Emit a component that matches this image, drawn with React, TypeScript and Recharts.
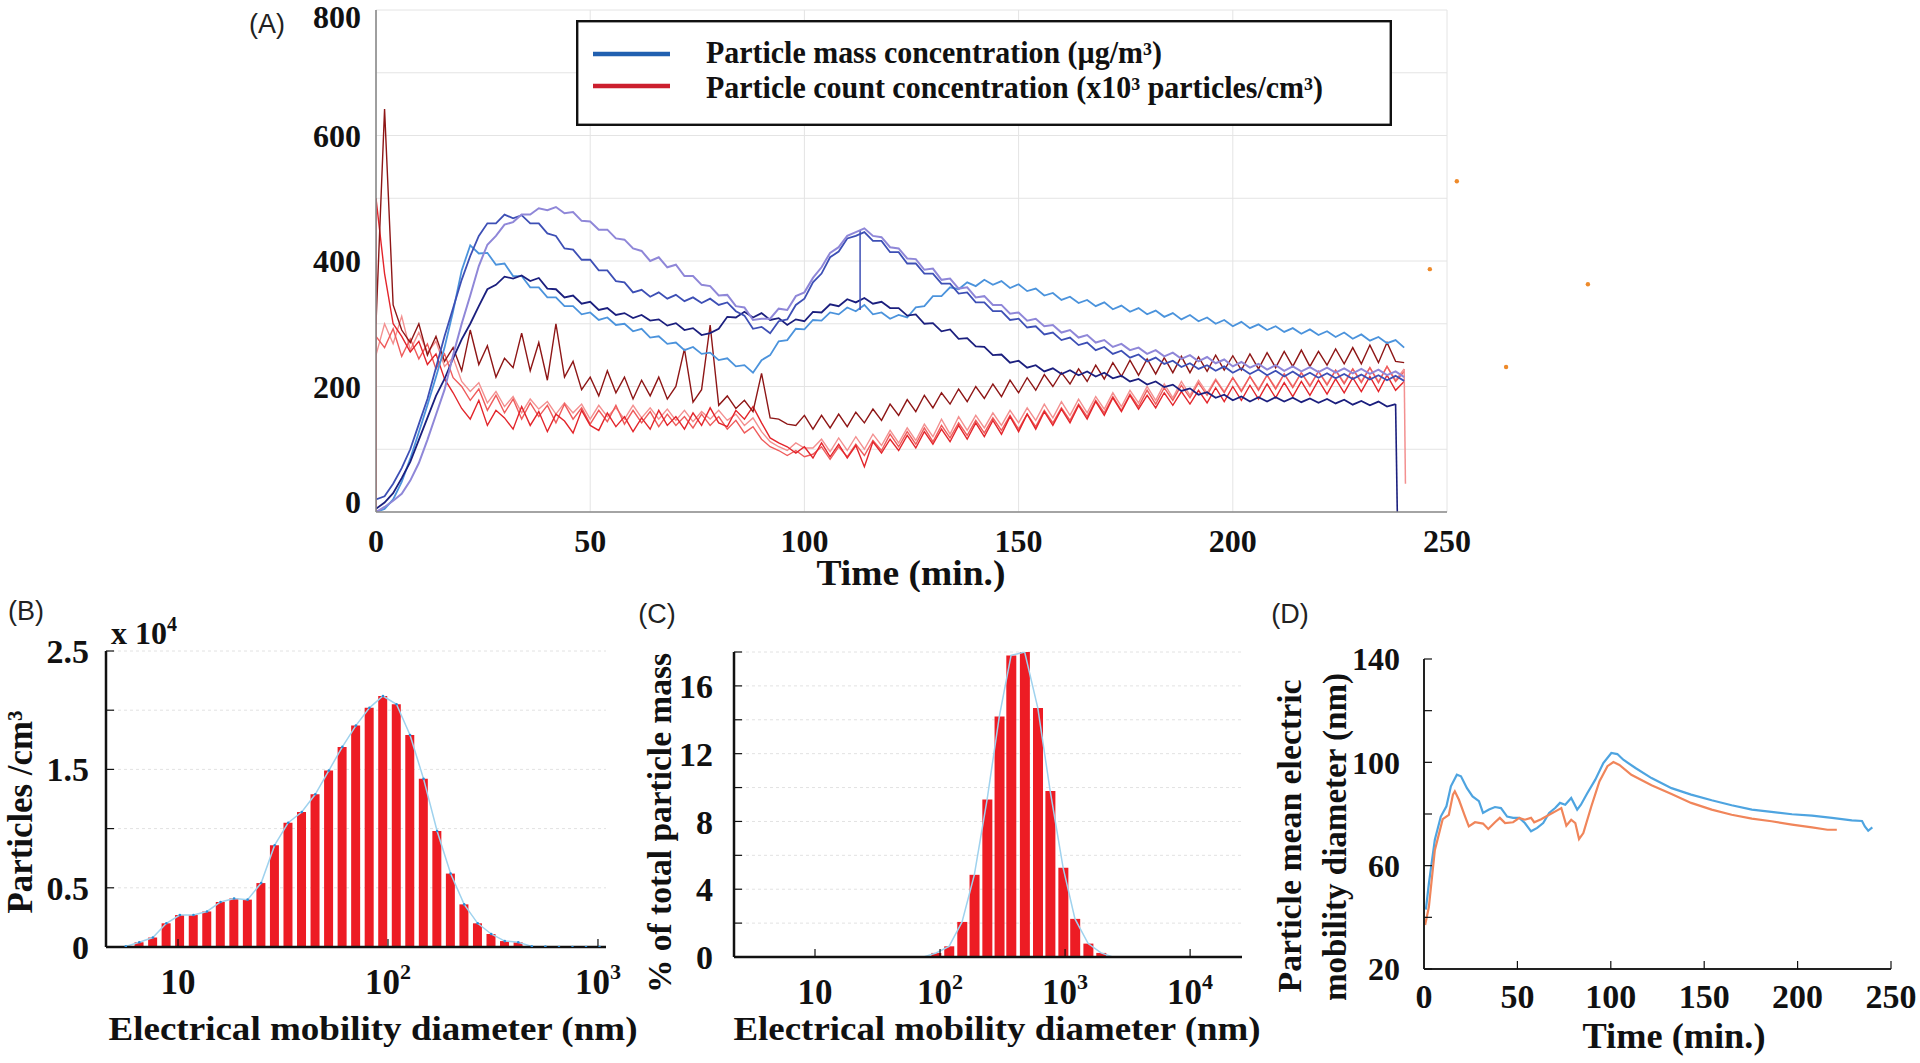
import React from 'react';
import {
  LineChart, Line, ComposedChart, Bar, ScatterChart, Scatter,
  XAxis, YAxis, CartesianGrid, Legend, Label,
} from 'recharts';

const SERIF = '"Liberation Serif", "Times New Roman", Times, serif';
const SANS = '"Liberation Sans", Arial, Helvetica, sans-serif';
const INK = '#111';

// ---------- (A) time series, one sample every 2 min ----------
const timeA = [0, 2, 4, 6, 8, 10, 12, 14, 16, 18, 20, 22, 24, 26, 28, 30, 32, 34, 36, 38, 40, 42, 44, 46, 48, 50, 52, 54, 56, 58, 60, 62, 64, 66, 68, 70, 72, 74, 76, 78, 80, 82, 84, 86, 88, 90, 92, 94, 96, 98, 100, 102, 104, 106, 108, 110, 112, 114, 116, 118, 120, 122, 124, 126, 128, 130, 132, 134, 136, 138, 140, 142, 144, 146, 148, 150, 152, 154, 156, 158, 160, 162, 164, 166, 168, 170, 172, 174, 176, 178, 180, 182, 184, 186, 188, 190, 192, 194, 196, 198, 200, 202, 204, 206, 208, 210, 212, 214, 216, 218, 220, 222, 224, 226, 228, 230, 232, 234, 236, 238, 240];

// particle mass concentration (ug/m3), four runs
const massLavender = [
  0, 8, 18, 29, 50, 78, 115, 155, 195, 250,
  300, 345, 392, 426, 440, 458, 462, 474, 474, 484,
  481, 486, 476, 478, 464, 463, 450, 450, 436, 434,
  420, 416, 400, 406, 390, 394, 376, 376, 362, 360,
  345, 346, 328, 326, 306, 308, 308, 324, 322, 344,
  350, 373, 390, 413, 422, 440, 446, 452, 440, 438,
  422, 420, 404, 403, 386, 388, 370, 372, 356, 358,
  342, 344, 330, 330, 316, 318, 305, 308, 296, 298,
  286, 290, 278, 282, 270, 274, 263, 268, 258, 262,
  252, 258, 248, 254, 244, 250, 240, 247, 237, 243,
  232, 239, 230, 236, 227, 234, 225, 232, 224, 231,
  223, 230, 222, 229, 221, 228, 220, 227, 218, 224,
  215,
];
const massMedium = [
  20, 25, 45, 70, 100, 140, 180, 230, 280, 325,
  370, 408, 440, 460, 460, 474, 468, 473, 460, 460,
  444, 440, 420, 418, 402, 402, 385, 385, 368, 366,
  350, 354, 343, 350, 340, 346, 336, 342, 333, 340,
  330, 334, 320, 313, 292, 295, 285, 304, 307, 330,
  340, 366, 380, 406, 415, 436, 440, 446, 432, 432,
  414, 414, 396, 396, 380, 380, 364, 364, 348, 350,
  334, 334, 320, 320, 306, 308, 294, 296, 283, 286,
  274, 278, 266, 270, 258, 263, 252, 257, 246, 251,
  240, 246, 236, 241, 231, 237, 228, 234, 225, 232,
  222, 229, 220, 227, 218, 225, 216, 224, 215, 222,
  214, 221, 213, 220, 212, 219, 211, 218, 210, 217,
  209,
];
// this run stops at 238 min
const massNavy = [
  5, 15, 30, 54, 80, 115, 150, 185, 212, 245,
  275, 300, 328, 355, 362, 375, 372, 377, 368, 373,
  356, 355, 342, 345, 332, 335, 322, 325, 314, 317,
  309, 314, 305, 307, 297, 301, 290, 293, 282, 285,
  292, 311, 310, 319, 310, 317, 306, 309, 298, 307,
  304, 319, 318, 331, 328, 339, 334, 341, 332, 335,
  325, 325, 313, 315, 300, 301, 288, 291, 276, 277,
  264, 263, 250, 251, 238, 241, 230, 234, 224, 229,
  220, 226, 218, 224, 216, 222, 213, 217, 208, 212,
  203, 208, 199, 203, 193, 197, 187, 191, 182, 187,
  178, 184, 176, 183, 176, 183, 176, 182, 175, 181,
  174, 180, 173, 179, 171, 177, 170, 176, 168, 172,
];
const massLight = [
  0, 5, 20, 48, 85, 127, 170, 215, 262, 320,
  385, 425, 412, 413, 394, 396, 376, 376, 358, 358,
  342, 342, 328, 328, 315, 318, 306, 310, 298, 300,
  288, 292, 278, 280, 268, 270, 258, 263, 252, 254,
  242, 245, 232, 234, 222, 242, 250, 272, 274, 292,
  291, 306, 305, 318, 315, 326, 320, 330, 315, 318,
  308, 314, 310, 326, 328, 344, 344, 358, 355, 366,
  360, 370, 362, 368, 357, 363, 352, 356, 345, 349,
  338, 343, 333, 338, 328, 334, 323, 329, 319, 325,
  315, 321, 311, 317, 307, 314, 304, 310, 300, 306,
  296, 303, 293, 299, 290, 296, 287, 293, 284, 291,
  282, 288, 279, 286, 276, 283, 273, 279, 269, 274,
  262,
];

// particle count concentration (x10^3 /cm3), four runs
const countDark = [
  300, 642, 330, 290, 270, 300, 250, 280, 240, 262,
  225, 290, 235, 265, 215, 245, 230, 285, 225, 270,
  210, 300, 215, 240, 195, 215, 185, 225, 190, 215,
  180, 210, 185, 215, 180, 200, 260, 175, 195, 298,
  170, 185, 165, 178, 160, 221, 150, 148, 140, 138,
  154, 132, 154, 134, 156, 136, 159, 142, 164, 146,
  172, 154, 179, 160, 186, 166, 190, 172, 196, 176,
  200, 181, 204, 184, 210, 190, 214, 194, 219, 200,
  222, 204, 228, 208, 234, 212, 238, 216, 242, 218,
  244, 220, 246, 222, 248, 222, 247, 224, 250, 226,
  249, 226, 252, 228, 254, 230, 256, 232, 258, 232,
  256, 234, 260, 236, 262, 236, 266, 238, 270, 240,
  238,
];
const countRed = [
  500, 380, 300, 280, 255, 272, 235, 252, 212, 190,
  165, 148, 178, 138, 162, 150, 132, 168, 138, 160,
  128, 156, 145, 126, 162, 138, 130, 158, 136, 152,
  128, 150, 132, 162, 138, 152, 132, 158, 138, 166,
  142, 136, 162, 148, 168, 142, 118, 110, 104, 94,
  104, 86, 110, 88, 108, 86, 106, 72, 112, 94,
  116, 98, 122, 102, 128, 108, 132, 112, 138, 116,
  142, 120, 146, 124, 152, 128, 156, 132, 160, 138,
  164, 142, 170, 148, 176, 154, 182, 160, 186, 164,
  186, 166, 190, 170, 192, 172, 194, 174, 198, 176,
  200, 178, 202, 180, 204, 182, 206, 184, 208, 186,
  210, 188, 212, 190, 214, 192, 216, 192, 218, 194,
  208,
];
const countSalmon = [
  280, 262, 292, 248, 276, 244, 268, 228, 252, 214,
  200, 178, 196, 162, 186, 158, 180, 148, 174, 152,
  170, 142, 172, 148, 166, 140, 162, 144, 170, 140,
  162, 142, 160, 136, 156, 138, 152, 134, 156, 138,
  152, 132, 146, 126, 136, 116, 104, 98, 90, 98,
  88, 92, 104, 84, 104, 88, 108, 90, 114, 98,
  124, 104, 128, 108, 134, 112, 138, 118, 142, 122,
  146, 126, 150, 130, 154, 132, 156, 136, 162, 142,
  166, 146, 172, 152, 178, 158, 184, 162, 188, 168,
  194, 172, 198, 178, 202, 182, 206, 186, 210, 190,
  214, 192, 216, 194, 218, 196, 220, 198, 222, 200,
  224, 202, 226, 204, 228, 206, 230, 206, 232, 208,
  224,
];
const countPink = [
  250, 300, 268, 312, 258, 286, 254, 272, 232, 246,
  208, 192, 206, 174, 192, 168, 184, 158, 180, 164,
  176, 156, 174, 158, 172, 148, 170, 152, 166, 148,
  170, 150, 166, 148, 164, 146, 162, 144, 160, 148,
  162, 146, 156, 138, 150, 128, 112, 104, 98, 110,
  102, 102, 116, 96, 118, 98, 120, 100, 124, 106,
  130, 110, 134, 114, 140, 120, 148, 124, 152, 130,
  154, 134, 158, 138, 162, 142, 166, 146, 172, 150,
  176, 154, 180, 158, 184, 164, 190, 168, 194, 174,
  200, 178, 204, 182, 208, 186, 210, 190, 212, 192,
  214, 194, 216, 196, 218, 198, 220, 200, 222, 202,
  224, 204, 226, 206, 228, 208, 230, 208, 232, 210,
  228,
];

// short vertical strokes in (A)
const redRiseT = [0, 0];
const redRiseV = [0, 500];
const mediumDipT = [113, 113];
const mediumDipV = [448, 322];
const navyDropT = [238, 238.4];
const navyDropV = [172, 0];
const pinkDropT = [240, 240.3];
const pinkDropV = [228, 45];

// stray orange points right of (A)
const strayT = [252.3, 246, 282.9, 263.8];
const strayV = [527, 387, 363, 231];

// ---------- (B) number size distribution ----------
const diamB = [5.64, 6.54, 7.59, 8.8, 10.2, 11.85, 13.74, 15.94, 18.49, 21.45, 24.88, 28.86, 33.48, 38.84, 45.05, 52.26, 60.62, 70.32, 81.57, 94.62, 109.8, 127.3, 147.7, 171.3, 198.7, 230.5, 267.4, 310.2, 359.8, 417.4, 484.2, 561.7, 652, 756, 877, 1017];
const countB = [50, 400, 800, 2000, 2700, 2700, 3000, 3800, 4100, 4000, 5400, 8600, 10500, 11400, 12900, 14900, 16900, 18700, 20200, 21200, 20500, 17900, 14200, 9800, 6200, 3600, 2000, 1100, 500, 400, 50, 30, 0, 0, 0, 0];

// ---------- (C) mass size distribution ----------
const diamC = [74, 93, 118, 150, 188, 238, 298, 370, 475, 605, 760, 965, 1200, 1530, 1940, 2400];
const massPctC = [0, 0.24, 0.63, 2.07, 4.85, 9.3, 14.2, 17.8, 18.0, 14.7, 9.8, 5.26, 2.25, 0.79, 0.24, 0];

// ---------- (D) mean electric mobility diameter ----------
const timeD1 = [1, 2.6, 5.8, 9, 12, 14.4, 17.6, 19.8, 23, 26, 29.4, 31.6, 34.8, 38, 41.2, 44.5, 47.7, 51, 54, 57.3, 60.6, 63.8, 67, 70.2, 72.8, 75.6, 78.8, 82, 84, 87.4, 91.7, 96, 100.3, 103.5, 106.7, 113.2, 121.8, 132.5, 143, 154, 164.7, 175.5, 186, 197, 207.7, 218.4, 229, 234.5, 236, 237.8, 240];
const diamD1 = [43, 53, 70, 79, 83, 90.7, 95.2, 94.6, 90, 86.8, 85, 80.4, 81.7, 82.7, 82.3, 79, 78.5, 78.5, 76.5, 73.3, 74.6, 76.5, 80.4, 82.3, 84.3, 83.6, 86.2, 81.7, 83.6, 88, 93.3, 99.7, 103.6, 103.2, 101, 97.8, 93.9, 90, 87.5, 85.3, 83.4, 81.7, 80.8, 79.9, 79.4, 78.5, 77.5, 77.3, 75.2, 73.5, 74.8];
const timeD2 = [0.6, 2.6, 5.8, 10, 13.3, 15.5, 16.5, 18.7, 22, 24, 27.3, 31.6, 34.4, 38, 40.6, 43.4, 47.7, 51, 54, 57.3, 59, 62.7, 67, 71.3, 73.5, 76.2, 78.8, 81, 83, 85.3, 89.6, 93.9, 98.2, 101.4, 104.6, 111, 121.8, 132.5, 143, 154, 164.7, 175.5, 186, 197, 207.7, 216, 221];
const diamD2 = [37, 44, 66, 78, 79.7, 87.5, 88.8, 85.5, 79, 75.2, 76.8, 76.3, 74.2, 76.8, 78.5, 76.5, 76.8, 78.5, 77.8, 78.5, 76.8, 78, 79.7, 81.4, 82.3, 75.5, 77.8, 76.5, 70.3, 72.6, 83, 92.6, 98.5, 100.1, 99, 95.2, 91.1, 87.7, 84.3, 81.7, 79.7, 78.2, 77.2, 75.9, 74.8, 73.9, 73.9];

const pts = (ts: number[], vs: number[]) => vs.map((v, i) => ({ t: ts[i], v }));

const LEG_BLUE = '#2160b0';
const LEG_RED = '#cc1f2e';

const seriesA = [
  { id: 'pink', data: pts(timeA, countPink), color: '#f39090', w: 1.4 },
  { id: 'salmon', data: pts(timeA, countSalmon), color: '#ef5b5b', w: 1.4 },
  { id: 'red', data: pts(timeA, countRed), color: '#e3252b', w: 1.4 },
  { id: 'dark', data: pts(timeA, countDark), color: '#8e1616', w: 1.4 },
  { id: 'redRise', data: pts(redRiseT, redRiseV), color: '#e3252b', w: 1.5 },
  { id: 'pinkDrop', data: pts(pinkDropT, pinkDropV), color: '#f39090', w: 1.5 },
  { id: 'light', data: pts(timeA, massLight), color: '#4b93dc', w: 1.8 },
  { id: 'navy', data: pts(timeA, massNavy), color: '#1b1f7e', w: 1.8 },
  { id: 'navyDrop', data: pts(navyDropT, navyDropV), color: '#1b1f7e', w: 1.6 },
  { id: 'medium', data: pts(timeA, massMedium), color: '#3d4fb5', w: 1.8 },
  { id: 'mediumDip', data: pts(mediumDipT, mediumDipV), color: '#3d4fb5', w: 1.5 },
  { id: 'lavender', data: pts(timeA, massLavender), color: '#8f87d8', w: 2 },
];

const title = (x: number, y: number, text: string, size: number, len: number, vertical = false) =>
  function AxisTitle() {
    return (
      <text
        x={x}
        y={y}
        textAnchor="middle"
        dominantBaseline={vertical ? 'central' : undefined}
        transform={vertical ? `rotate(-90 ${x} ${y})` : undefined}
        fontFamily={SERIF}
        fontWeight={700}
        fontSize={size}
        fill={INK}
        textLength={len}
        lengthAdjust="spacingAndGlyphs"
      >
        {text}
      </text>
    );
  };

const LegendA = () => (
  <svg width={816} height={106} style={{ display: 'block' }}>
    <rect x={1.2} y={1.2} width={813.6} height={103.6} fill="#fff" stroke={INK} strokeWidth={2.4} />
    <line x1={17} x2={94} y1={34} y2={34} stroke={LEG_BLUE} strokeWidth={4.5} />
    <line x1={17} x2={94} y1={66} y2={66} stroke={LEG_RED} strokeWidth={4.5} />
    <text x={130} y={43} fontFamily={SERIF} fontWeight={700} fontSize={31} fill={INK} textLength={456} lengthAdjust="spacingAndGlyphs">
      Particle mass concentration (µg/m³)
    </text>
    <text x={130} y={78} fontFamily={SERIF} fontWeight={700} fontSize={31} fill={INK} textLength={617} lengthAdjust="spacingAndGlyphs">
      Particle count concentration (x10³ particles/cm³)
    </text>
  </svg>
);

// (A) y labels: every second tick, the end labels nudged inwards as in the figure
const AYTick = (props: any) => {
  const { x, y, payload } = props;
  if (payload.value % 200 !== 0) return null;
  const nudge = payload.value === 800 ? 7 : payload.value === 0 ? -10 : 0;
  return (
    <text x={x} y={y + nudge} dy="0.355em" textAnchor="end" fontFamily={SERIF} fontWeight={700} fontSize={32} fill={INK}>
      {payload.value}
    </text>
  );
};

const DecadeTick = (props: any) => {
  const { x, y, payload } = props;
  const exp = Math.round(Math.log10(payload.value));
  return (
    <text x={x} y={y + 47} textAnchor="middle" fontFamily={SERIF} fontWeight={700} fontSize={35} fill={INK}>
      <tspan>10</tspan>
      {exp > 1 ? <tspan fontSize={22} dy={-15}>{exp}</tspan> : null}
    </text>
  );
};

const tickFont = (size: number) => ({ fontFamily: SERIF, fontWeight: 700, fontSize: size, fill: INK });

const ticksA_X = [0, 50, 100, 150, 200, 250];
const ticksA_Y = [0, 100, 200, 300, 400, 500, 600, 700, 800];
const grayAxis = { stroke: '#8a8a8a', strokeWidth: 1.6 };

function PanelA() {
  return (
    <>
      <div style={{ position: 'absolute', left: 0, top: 0 }}>
        <LineChart width={1500} height={592} margin={{ top: 10, right: 53, bottom: 0, left: 0 }}>
          <CartesianGrid xAxisId="x" yAxisId="y" stroke="#e4e4e4" strokeWidth={1} />
          <XAxis
            xAxisId="x" dataKey="t" type="number" domain={[0, 250]} allowDataOverflow
            ticks={ticksA_X} interval={0} height={80} tickLine={false} tickSize={0} tickMargin={17}
            axisLine={grayAxis} tick={tickFont(32)}
          >
            <Label content={title(911, 585, 'Time (min.)', 36, 189)} />
          </XAxis>
          <XAxis
            xAxisId="xt" orientation="top" dataKey="t" type="number" domain={[0, 250]} allowDataOverflow
            ticks={ticksA_X} interval={0} height={0} tick={false} tickSize={-9}
            axisLine={grayAxis} tickLine={{ stroke: '#555', strokeWidth: 1.2 }}
          />
          <YAxis
            yAxisId="y" type="number" domain={[0, 800]} allowDataOverflow ticks={ticksA_Y} interval={0}
            width={376} tickLine={false} tickSize={0} tickMargin={15} axisLine={grayAxis}
            tick={<AYTick />}
          />
          <YAxis
            yAxisId="yr" orientation="right" type="number" domain={[0, 800]} allowDataOverflow ticks={ticksA_Y}
            interval={0} width={0} tick={false} tickSize={-10} axisLine={grayAxis}
            tickLine={{ stroke: '#555', strokeWidth: 1.2 }}
          />
          {seriesA.map((s) => (
            <Line
              key={s.id} xAxisId="x" yAxisId="y" data={s.data} dataKey="v" type="linear"
              stroke={s.color} strokeWidth={s.w} dot={false} activeDot={false} isAnimationActive={false}
            />
          ))}
          <Legend
            layout="horizontal" verticalAlign="middle" align="center" content={LegendA}
            wrapperStyle={{ left: 576, top: 20, width: 816, height: 106 }}
          />
        </LineChart>
      </div>
      <div style={{ position: 'absolute', left: 0, top: 0, pointerEvents: 'none' }}>
        <ScatterChart width={1720} height={592} margin={{ top: 10, right: 16, bottom: 80, left: 376 }}>
          <XAxis dataKey="t" type="number" domain={[0, 310]} hide />
          <YAxis dataKey="v" type="number" domain={[0, 800]} hide />
          <Scatter
            data={pts(strayT, strayV)} isAnimationActive={false}
            shape={(p: any) => <circle cx={p.cx} cy={p.cy} r={2.2} fill="#ee8a2a" />}
          />
        </ScatterChart>
      </div>
    </>
  );
}

const ticksB_Y = [0, 5000, 10000, 15000, 20000, 25000];
const tableB = diamB.map((d, i) => ({ d, n: countB[i] }));
const blackAxis = { stroke: INK, strokeWidth: 2.5 };
const blackTick = { stroke: INK, strokeWidth: 1.2 };

function PanelB() {
  return (
    <div style={{ position: 'absolute', left: 0, top: 600 }}>
      <ComposedChart width={640} height={450} data={tableB} margin={{ top: 51, right: 34, bottom: 0, left: 0 }}>
        <CartesianGrid xAxisId="x" yAxisId="y" vertical={false} stroke="#e2e2e2" strokeDasharray="3 3" />
        <XAxis
          xAxisId="x" dataKey="d" type="number" scale="log" domain={[4.54, 1092]} allowDataOverflow
          ticks={[10, 100, 1000]} interval={0} height={103} tickSize={-8} tickMargin={8}
          axisLine={blackAxis} tickLine={blackTick} tick={<DecadeTick />}
        >
          <Label content={title(373, 440, 'Electrical mobility diameter (nm)', 34, 529)} />
        </XAxis>
        <XAxis
          xAxisId="xt" orientation="top" dataKey="d" type="number" scale="log" domain={[4.54, 1092]} allowDataOverflow
          ticks={[10, 100, 1000]} interval={0} height={0} tick={false} tickSize={-8}
          axisLine={blackAxis} tickLine={blackTick}
        />
        <YAxis
          yAxisId="y" type="number" domain={[0, 25000]} allowDataOverflow ticks={ticksB_Y} interval={0}
          width={106} tickSize={-8} tickMargin={25} axisLine={blackAxis} tickLine={blackTick}
          tick={tickFont(34)}
          tickFormatter={(v: number) => (v === 10000 || v === 20000 ? '' : String(v / 10000))}
        >
          <Label content={title(20, 212, 'Particles /cm³', 35, 203, true)} />
        </YAxis>
        <YAxis
          yAxisId="yr" orientation="right" type="number" domain={[0, 25000]} allowDataOverflow ticks={ticksB_Y}
          interval={0} width={0} tick={false} tickSize={-8} axisLine={blackAxis} tickLine={blackTick}
        />
        <Bar xAxisId="x" yAxisId="y" dataKey="n" fill="#ed1c24" barSize={9} isAnimationActive={false} />
        <Line
          xAxisId="x" yAxisId="y" dataKey="n" type="linear" stroke="#9fd2ee" strokeWidth={1.5}
          dot={{ r: 1.3, fill: '#2e8fd6', stroke: 'none' }} activeDot={false} isAnimationActive={false}
        />
      </ComposedChart>
    </div>
  );
}

const ticksC_Y = [0, 2, 4, 6, 8, 10, 12, 14, 16, 18];
const tableC = diamC.map((d, i) => ({ d, m: massPctC[i] }));

function PanelC() {
  return (
    <div style={{ position: 'absolute', left: 640, top: 600 }}>
      <ComposedChart width={640} height={450} data={tableC} margin={{ top: 52, right: 38, bottom: 0, left: 0 }}>
        <CartesianGrid xAxisId="x" yAxisId="y" vertical={false} stroke="#e2e2e2" strokeDasharray="3 3" />
        <XAxis
          xAxisId="x" dataKey="d" type="number" scale="log" domain={[2.25, 26000]} allowDataOverflow
          ticks={[10, 100, 1000, 10000]} interval={0} height={93} tickSize={-8} tickMargin={8}
          axisLine={blackAxis} tickLine={blackTick} tick={<DecadeTick />}
        >
          <Label content={title(357, 440, 'Electrical mobility diameter (nm)', 34, 527)} />
        </XAxis>
        <XAxis
          xAxisId="xt" orientation="top" dataKey="d" type="number" scale="log" domain={[2.25, 26000]} allowDataOverflow
          ticks={[10, 100, 1000, 10000]} interval={0} height={0} tick={false} tickSize={-8}
          axisLine={blackAxis} tickLine={blackTick}
        />
        <YAxis
          yAxisId="y" type="number" domain={[0, 18]} allowDataOverflow ticks={ticksC_Y} interval={0}
          width={94} tickSize={-8} tickMargin={29} axisLine={blackAxis} tickLine={blackTick}
          tick={tickFont(34)} tickFormatter={(v: number) => (v % 4 === 0 ? String(v) : '')}
        >
          <Label content={title(19, 223, '% of total particle mass', 34, 340, true)} />
        </YAxis>
        <YAxis
          yAxisId="yr" orientation="right" type="number" domain={[0, 18]} allowDataOverflow ticks={ticksC_Y}
          interval={0} width={0} tick={false} tickSize={-8} axisLine={blackAxis} tickLine={blackTick}
        />
        <Bar xAxisId="x" yAxisId="y" dataKey="m" fill="#ed1c24" barSize={10} isAnimationActive={false} />
        <Line
          xAxisId="x" yAxisId="y" dataKey="m" type="linear" stroke="#9fd2ee" strokeWidth={1.5}
          dot={false} activeDot={false} isAnimationActive={false}
        />
      </ComposedChart>
    </div>
  );
}

const ticksD_X = [0, 50, 100, 150, 200, 250];
const ticksD_Y = [20, 40, 60, 80, 100, 120, 140];
const darkAxis = { stroke: '#222', strokeWidth: 2 };

function PanelD() {
  return (
    <div style={{ position: 'absolute', left: 1260, top: 600 }}>
      <LineChart width={660} height={460} margin={{ top: 59, right: 29, bottom: 0, left: 0 }}>
        <XAxis
          xAxisId="x" dataKey="t" type="number" domain={[0, 250]} allowDataOverflow ticks={ticksD_X}
          interval={0} height={91} tickSize={-8} tickMargin={23} axisLine={darkAxis} tickLine={blackTick}
          tick={tickFont(34)}
        >
          <Label content={title(414, 448, 'Time (min.)', 36, 183)} />
        </XAxis>
        <XAxis
          xAxisId="xt" orientation="top" dataKey="t" type="number" domain={[0, 250]} allowDataOverflow
          ticks={ticksD_X} interval={0} height={0} tick={false} tickSize={-8} axisLine={darkAxis} tickLine={blackTick}
        />
        <YAxis
          yAxisId="y" type="number" domain={[20, 140]} allowDataOverflow ticks={ticksD_Y} interval={0}
          width={164} tickSize={-8} tickMargin={32} axisLine={darkAxis} tickLine={blackTick}
          tick={tickFont(32)} tickFormatter={(v: number) => ((v - 20) % 40 === 0 ? String(v) : '')}
        >
          <Label content={title(30, 236, 'Particle mean electric', 33, 313, true)} />
          <Label content={title(75, 237, 'mobility diameter (nm)', 33, 328, true)} />
        </YAxis>
        <YAxis
          yAxisId="yr" orientation="right" type="number" domain={[20, 140]} allowDataOverflow ticks={ticksD_Y}
          interval={0} width={0} tick={false} tickSize={-8} axisLine={darkAxis} tickLine={blackTick}
        />
        <Line
          xAxisId="x" yAxisId="y" data={pts(timeD1, diamD1)} dataKey="v" type="linear" stroke="#4ea4e0"
          strokeWidth={2.2} dot={false} activeDot={false} isAnimationActive={false}
        />
        <Line
          xAxisId="x" yAxisId="y" data={pts(timeD2, diamD2)} dataKey="v" type="linear" stroke="#f0855a"
          strokeWidth={2.2} dot={false} activeDot={false} isAnimationActive={false}
        />
      </LineChart>
    </div>
  );
}

export default function App() {
  return (
    <div style={{ position: 'absolute', left: 0, top: 0, width: 1920, height: 1063, background: '#fff', overflow: 'hidden' }}>
      <PanelA />
      <PanelB />
      <PanelC />
      <PanelD />
      <svg width={1920} height={1063} style={{ position: 'absolute', left: 0, top: 0, pointerEvents: 'none' }}>
        <g fontFamily={SANS} fontSize={27} fill="#222">
          <text x={267} y={24} textAnchor="middle" dominantBaseline="central">(A)</text>
          <text x={26} y={611} textAnchor="middle" dominantBaseline="central">(B)</text>
          <text x={657} y={614} textAnchor="middle" dominantBaseline="central">(C)</text>
          <text x={1290} y={614} textAnchor="middle" dominantBaseline="central">(D)</text>
        </g>
        <text x={111} y={644} fontFamily={SERIF} fontWeight={700} fontSize={32} fill={INK}>
          x 10<tspan fontSize={20} dy={-13}>4</tspan>
        </text>
      </svg>
    </div>
  );
}
